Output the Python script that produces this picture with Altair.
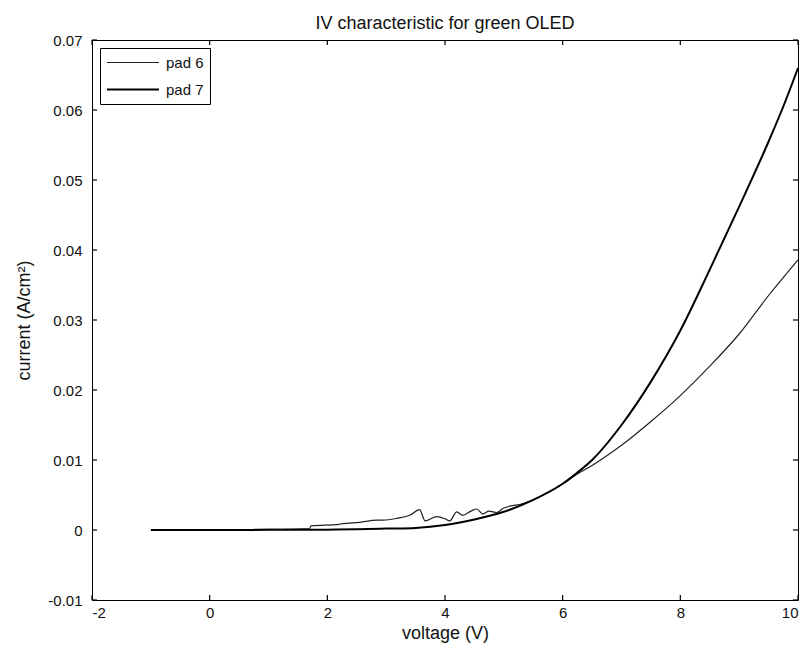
import altair as alt
import pandas as pd

# ---- data ----
pad6_v = [0.75, 1.2, 1.7, 1.72, 2.2, 2.25, 2.55, 2.84, 2.95, 3.2, 3.4, 3.57, 3.62, 3.66,
          3.86, 4.0, 4.08, 4.2, 4.3, 4.44, 4.54, 4.64, 4.75, 4.88, 4.99, 5.1, 5.3, 5.5,
          6.0, 6.25, 6.5, 6.75, 7.0, 7.5, 8.0, 8.5, 9.0, 9.5, 10.0]
pad6_i = [0.0001, 0.0001, 0.0002, 0.0006, 0.0008, 0.0009, 0.0011, 0.0014, 0.0014, 0.0017,
          0.0021, 0.0029, 0.0020, 0.0013, 0.0019, 0.0016, 0.0013, 0.0026, 0.0021, 0.0027,
          0.0030, 0.0023, 0.0027, 0.0025, 0.0031, 0.0034, 0.0037, 0.0043, 0.0066, 0.0080,
          0.0092, 0.0106, 0.0121, 0.0155, 0.0192, 0.0234, 0.0280, 0.0335, 0.0386]

pad7_v = [-1.0, 0.0, 1.0, 2.0, 2.5, 3.0, 3.5, 4.0, 4.5, 5.0, 5.5, 6.0, 6.25, 6.5, 7.0,
          7.5, 8.0, 8.5, 9.0, 9.5, 9.75, 10.0]
pad7_i = [0.0, 0.0, 0.00002, 0.00005, 0.0001, 0.0002, 0.0003, 0.0007, 0.0015, 0.0026,
          0.0043, 0.0066, 0.0082, 0.0100, 0.0150, 0.0212, 0.0285, 0.0372, 0.0462, 0.0555,
          0.0605, 0.0660]

series_names = ["pad 6", "pad 7"]
x_ticks = [-2, 0, 2, 4, 6, 8, 10]
y_ticks = [-0.01, 0, 0.01, 0.02, 0.03, 0.04, 0.05, 0.06, 0.07]

df = pd.concat([
    pd.DataFrame({"voltage": pad6_v, "current": pad6_i, "series": series_names[0], "order": range(len(pad6_v))}),
    pd.DataFrame({"voltage": pad7_v, "current": pad7_i, "series": series_names[1], "order": range(len(pad7_v))}),
], ignore_index=True)
xt_df = pd.DataFrame({"voltage": x_ticks})
yt_df = pd.DataFrame({"current": y_ticks})

W, H = 706, 560
TL = 5  # inward tick length
FONT = "Liberation Sans"
TXT = "#111111"
xscale = alt.Scale(domain=[-2, 10], nice=False, zero=False)
yscale = alt.Scale(domain=[-0.01, 0.07], nice=False, zero=False)

xlab = "datum.value < 0 ? '-' + format(-datum.value, 'd') : format(datum.value, 'd')"
ylab = ("abs(datum.value) < 1e-9 ? '0' : (datum.value < 0 ? '-' + format(-datum.value, '.2f')"
        " : format(datum.value, '.2f'))")

common_axis = dict(grid=False, domain=False, ticks=False,
                   labelFont=FONT, labelFontSize=15, labelColor=TXT,
                   titleFont=FONT, titleFontSize=18, titleFontWeight="normal", titleColor=TXT)

legend_cfg = dict(title=None, orient="none", legendX=8, legendY=8, strokeColor="black",
                  fillColor="white", padding=6, symbolType="M-1,0H5.93", symbolSize=225,
                  labelFont=FONT, labelFontSize=15, labelColor=TXT, rowPadding=10,
                  labelOffset=43, cornerRadius=0, labelExpr="datum.label + '    '")

lines = alt.Chart(df).mark_line(interpolate="monotone").encode(
    x=alt.X("voltage:Q", scale=xscale,
            axis=alt.Axis(orient="bottom", values=x_ticks, labelExpr=xlab, title="voltage (V)",
                          labelPadding=5, titlePadding=4, **common_axis)),
    y=alt.Y("current:Q", scale=yscale,
            axis=alt.Axis(orient="left", values=y_ticks, labelExpr=ylab, title="current (A/cm²)",
                          labelPadding=10, titlePadding=14, **common_axis)),
    color=alt.Color("series:N", scale=alt.Scale(domain=series_names, range=["#222222", "#000000"]),
                    legend=alt.Legend(**legend_cfg)),
    strokeWidth=alt.StrokeWidth("series:N", scale=alt.Scale(domain=series_names, range=[1.2, 2.0]),
                                legend=alt.Legend(**legend_cfg)),
    order="order:Q",
)

tick_style = dict(color="black", strokeWidth=1.2)
tick_bottom = alt.Chart(xt_df).mark_rule(**tick_style).encode(
    x=alt.X("voltage:Q", scale=xscale), y=alt.value(H), y2=alt.value(H - TL))
tick_top = alt.Chart(xt_df).mark_rule(**tick_style).encode(
    x=alt.X("voltage:Q", scale=xscale), y=alt.value(0), y2=alt.value(TL))
tick_left = alt.Chart(yt_df).mark_rule(**tick_style).encode(
    y=alt.Y("current:Q", scale=yscale), x=alt.value(0), x2=alt.value(TL))
tick_right = alt.Chart(yt_df).mark_rule(**tick_style).encode(
    y=alt.Y("current:Q", scale=yscale), x=alt.value(W), x2=alt.value(W - TL))

chart = alt.layer(lines, tick_bottom, tick_top, tick_left, tick_right).properties(
    width=W, height=H,
    title=alt.TitleParams("IV characteristic for green OLED", font=FONT, fontSize=18,
                          fontWeight="normal", color=TXT, offset=0, anchor="middle"),
    padding={"left": 84, "top": 32, "right": 1, "bottom": 50},
    autosize=alt.AutoSizeParams(type="none"),
).configure_view(stroke="black", strokeWidth=1)

chart.save("out.html", embed_options={"renderer": "svg", "actions": False})
